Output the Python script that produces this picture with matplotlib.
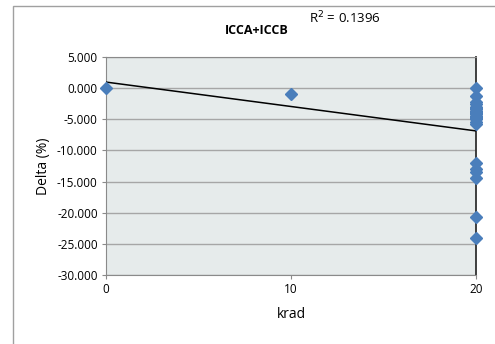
import numpy as np
import matplotlib.pyplot as plt
from matplotlib.patches import Rectangle

# dose (krad) and measured delta (%)
krad = [0, 10] + [20] * 23
delta = [0.0, -1.0,
         0.0, -1.2, -2.2, -2.6, -3.0, -3.2, -3.4, -3.6, -3.8, -4.0, -4.2,
         -4.4, -4.6, -4.8, -5.0, -5.4, -5.8,
         -12.0, -13.0, -13.5, -14.5, -20.7, -24.0]
yticks = [5, 0, -5, -10, -15, -20, -25, -30]
xticks = [0, 10, 20]

plt.rcParams["font.family"] = ["Open Sans", "DejaVu Sans"]

fig = plt.figure(figsize=(4.95, 3.44), dpi=100)
fig.patches.append(Rectangle((13 / 495, -0.01), 1.0, 1 - 6 / 344 + 0.01,
                             transform=fig.transFigure, fill=False,
                             edgecolor="#a0a0a0", linewidth=1.0))

ax = fig.add_axes([106 / 495, 1 - 275 / 344, 370 / 495, 218 / 344])
ax.set_facecolor("#e6ebeb")

x = np.array(krad, dtype=float)
y = np.array(delta)
b, a = np.polyfit(x, y, 1)
xs = np.array([0, 20])
ax.plot(xs, a + b * xs, color="black", linewidth=1.1, zorder=3)
ax.plot(x, y, linestyle="none", marker="D", markersize=6.5,
        color="#4a7ebb", clip_on=False, zorder=4)

ax.set_xlim(0, 20)
ax.set_ylim(-30, 5)
ax.set_xticks(xticks)
ax.set_yticks(yticks)
ax.set_yticklabels([f"{v:.3f}" for v in yticks])
ax.yaxis.grid(True, color="#a6a6a6", linewidth=1.0)
ax.set_axisbelow(True)
ax.tick_params(labelsize=8.5, length=3, color="#8a8a8a", pad=3)

for side in ["left", "bottom", "top"]:
    ax.spines[side].set_color("#8a8a8a")
ax.spines["right"].set_color("#303030")
ax.spines["right"].set_linewidth(1.3)

ax.set_ylabel("Delta (%)", fontsize=10, labelpad=4)
ax.set_xlabel("krad", fontsize=10, labelpad=8)

fig.text(257 / 495, 1 - 31 / 344, "ICCA+ICCB", fontsize=9, fontweight="bold",
         ha="center", va="center")
fig.text(345 / 495, 1 - 18 / 344, "R$^2$ = 0.1396", fontsize=9.5,
         ha="center", va="center")

fig.savefig("out.png", dpi=100)
